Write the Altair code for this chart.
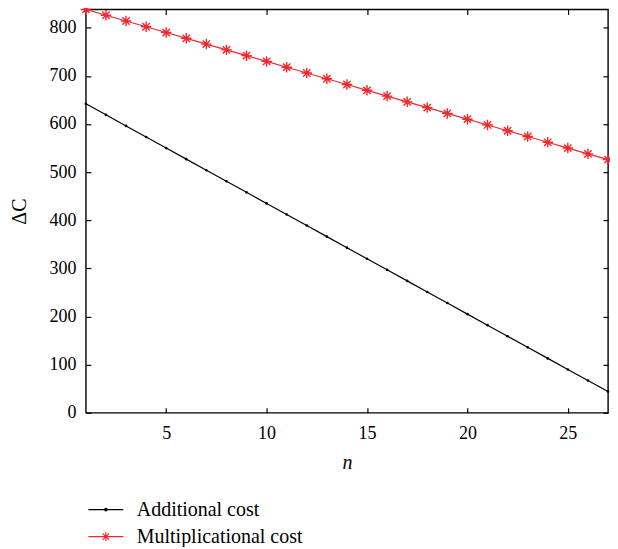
import altair as alt
import pandas as pd

# ---- data ----
n_values = list(range(1, 28))
additional_cost = [642, 619, 596, 573, 550, 527, 504, 481, 458, 435, 412, 389, 366, 343,
                   320, 297, 274, 251, 228, 205, 182, 159, 136, 113, 90, 67, 44]
multiplicational_cost = [838, 826, 814, 802, 790, 778, 766, 754, 742, 730, 718, 706, 694, 682,
                         670, 658, 646, 634, 622, 610, 598, 586, 574, 562, 550, 538, 526]
series_names = ["Additional cost", "Multiplicational cost"]
series_colors = ["#000000", "#f0282e"]
x_ticks = [5, 10, 15, 20, 25]
y_ticks = [0, 100, 200, 300, 400, 500, 600, 700, 800]
x_domain = [1, 27]
y_domain = [0, 838]

W, H = 523, 404
FONT = "Liberation Serif"
LAB = 18
TIT = 20

df_add = pd.DataFrame({"n": n_values, "C": additional_cost, "series": series_names[0]})
df_mul = pd.DataFrame({"n": n_values, "C": multiplicational_cost, "series": series_names[1]})
df_all = pd.concat([df_add, df_mul], ignore_index=True)

x_scale = alt.Scale(domain=x_domain, nice=False, zero=False)
y_scale = alt.Scale(domain=y_domain, nice=False, zero=False)

ASTERISK = "M-1,0H1M0,-1V1M-0.7,-0.7L0.7,0.7M-0.7,0.7L0.7,-0.7"
LEG_DOT = "M-3.5,0H3.5M-0.25,0A0.25,0.25 0 1,0 0.25,0A0.25,0.25 0 1,0 -0.25,0"
LEG_STAR = "M-3.5,0H3.5M0,-0.9V0.9M-0.65,-0.65L0.65,0.65M-0.65,0.65L0.65,-0.65"

# axes: labelled ones without ticks, plus mirrored inward-tick axes
x_lab = alt.Axis(values=x_ticks, title="n", ticks=False, tickSize=0, domain=False, grid=False,
                 labelPadding=12, titlePadding=10, titleFontStyle="italic", titleFontWeight="normal",
                 labelFont=FONT, titleFont=FONT, labelFontSize=LAB, titleFontSize=TIT,
                 labelColor="black", titleColor="black")
y_lab = alt.Axis(values=y_ticks, title="ΔC", ticks=False, tickSize=0, domain=False, grid=False,
                 labelPadding=10, titlePadding=19, titleFontWeight="normal",
                 labelFont=FONT, titleFont=FONT, labelFontSize=LAB, titleFontSize=TIT,
                 labelColor="black", titleColor="black")
tick_style = dict(labels=False, title=None, domain=False, grid=False, tickSize=5,
                  tickWidth=1.2, tickColor="black")
x_in_bottom = alt.Axis(values=x_ticks, orient="top", offset=-H, **tick_style)
y_in_left = alt.Axis(values=y_ticks, orient="right", offset=-W, **tick_style)
x_in_top = alt.Axis(values=x_ticks, orient="bottom", offset=-H, **tick_style)
y_in_right = alt.Axis(values=y_ticks, orient="left", offset=-W, **tick_style)

base_add = alt.Chart(df_add)
base_mul = alt.Chart(df_mul)

line_add = base_add.mark_line(color=series_colors[0], strokeWidth=1.2).encode(
    x=alt.X("n:Q", scale=x_scale, axis=x_lab),
    y=alt.Y("C:Q", scale=y_scale, axis=y_lab),
)
pts_add = base_add.mark_point(color=series_colors[0], filled=True, size=7, opacity=1).encode(
    x=alt.X("n:Q", scale=x_scale, axis=x_in_bottom),
    y=alt.Y("C:Q", scale=y_scale, axis=y_in_left),
)
line_mul = base_mul.mark_line(color=series_colors[1], strokeWidth=1.2).encode(
    x=alt.X("n:Q", scale=x_scale, axis=x_in_top),
    y=alt.Y("C:Q", scale=y_scale, axis=y_in_right),
)
pts_mul = base_mul.mark_point(color=series_colors[1], filled=False, shape=ASTERISK, size=110,
                              strokeWidth=1.4, opacity=1).encode(
    x=alt.X("n:Q", scale=x_scale, axis=None),
    y=alt.Y("C:Q", scale=y_scale, axis=None),
)

legend = alt.Legend(orient="none", legendX=10, legendY=491, title=None, direction="vertical",
                    labelFontSize=TIT, labelFont=FONT, labelOffset=21, labelLimit=0,
                    symbolSize=100, symbolStrokeWidth=1.2, rowPadding=7, padding=0,
                    labelColor="black")
legend_layer = alt.Chart(df_all).transform_filter("false").mark_point(filled=False, opacity=1).encode(
    x=alt.X("n:Q", scale=x_scale, axis=None),
    y=alt.Y("C:Q", scale=y_scale, axis=None),
    color=alt.Color("series:N", scale=alt.Scale(domain=series_names, range=series_colors), legend=legend),
    shape=alt.Shape("series:N", scale=alt.Scale(domain=series_names, range=[LEG_DOT, LEG_STAR]), legend=legend),
)

chart = alt.layer(line_add, pts_add, line_mul, pts_mul, legend_layer).resolve_axis(
    x="independent", y="independent"
).properties(
    width=W, height=H,
    autosize=alt.AutoSizeParams(type="none"),
    padding={"left": 78, "top": 1, "right": 2, "bottom": 134},
    background="white",
).configure_view(
    stroke="black", strokeWidth=1.4
)

chart.save("out.html", embed_options={"renderer": "svg", "actions": False})
